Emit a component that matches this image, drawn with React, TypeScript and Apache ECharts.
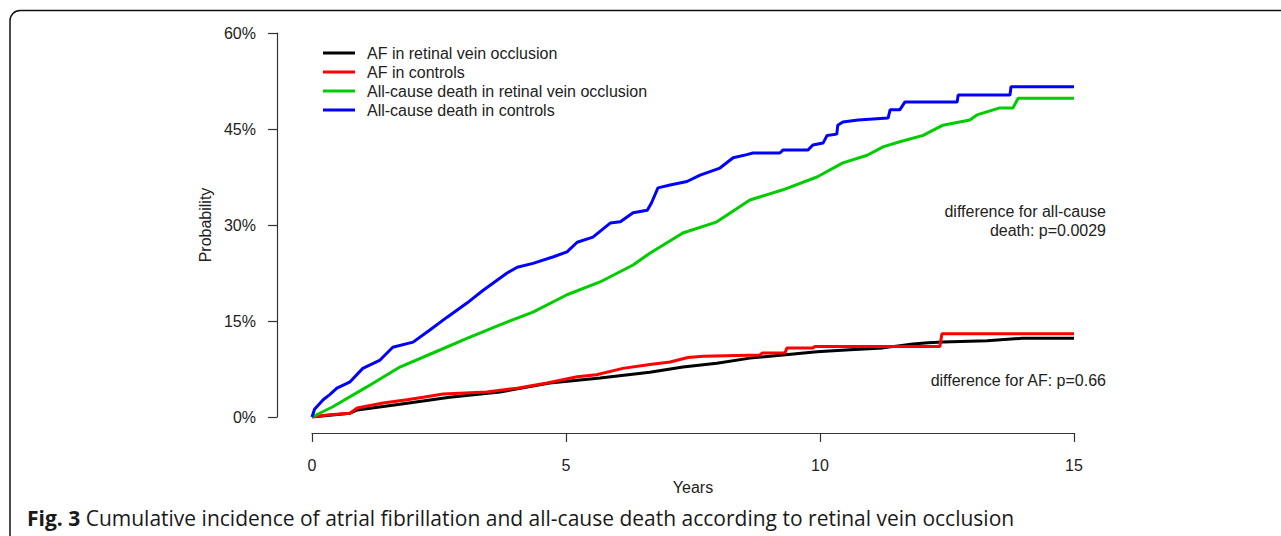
import React, { useEffect, useRef } from "react";
import * as echarts from "echarts";

const seriesNames = [
  "AF in retinal vein occlusion",
  "AF in controls",
  "All-cause death in retinal vein occlusion",
  "All-cause death in controls",
];
const seriesColors = ["#000000", "#FF0000", "#00CC00", "#0000FF"];

const xTicks = [0, 5, 10, 15];
const yTicks = [0, 15, 30, 45, 60];

// [years, cumulative probability %]
const afRvo: number[][] = [
  [0, 0], [0.75, 0.6], [0.89, 1.1], [1.73, 2], [2.71, 3.1], [3.7, 3.9], [4.68, 5.3],
  [5.67, 6.1], [6.65, 7], [7.3, 7.8], [7.97, 8.4], [8.62, 9.2], [9.27, 9.7], [9.94, 10.2],
  [10.59, 10.5], [11.24, 10.8], [11.83, 11.4], [12.13, 11.6], [12.42, 11.7], [13.29, 11.9],
  [13.98, 12.3], [15, 12.3],
];
const afCtrl: number[][] = [
  [0, 0], [0.3, 0.3], [0.75, 0.6], [0.89, 1.4], [1.4, 2.2], [1.87, 2.7], [2.19, 3.1],
  [2.58, 3.6], [3.44, 3.9], [4.04, 4.5], [4.63, 5.3], [5.22, 6.3], [5.6, 6.6], [6.12, 7.6],
  [6.65, 8.2], [7.05, 8.6], [7.4, 9.3], [7.7, 9.5], [8.82, 9.7], [8.86, 10], [9.31, 10],
  [9.35, 10.8], [9.86, 10.8], [9.9, 11], [12.36, 11], [12.4, 13], [15, 13],
];
const deathRvo: number[][] = [
  [0, 0], [0.41, 1.6], [1.08, 4.7], [1.73, 7.8], [2.38, 10], [3.05, 12.3], [3.7, 14.4],
  [4.35, 16.4], [5.02, 19.1], [5.67, 21.1], [6.32, 23.75], [6.65, 25.6], [7.3, 28.75],
  [7.97, 30.5], [8.62, 33.9], [9.27, 35.5], [9.94, 37.5], [10.45, 39.7], [10.93, 40.9],
  [11.24, 42.2], [11.57, 43], [12.03, 44], [12.42, 45.6], [12.95, 46.4], [13.09, 47.2],
  [13.54, 48.3], [13.8, 48.3], [13.9, 49.8], [15, 49.8],
];
const deathCtrl: number[][] = [
  [0, 0], [0.05, 1.2], [0.22, 2.7], [0.35, 3.5], [0.49, 4.5], [0.75, 5.5], [1.0, 7.6],
  [1.34, 8.9], [1.59, 10.9], [1.99, 11.7], [2.32, 13.6], [2.66, 15.6], [3.05, 17.8],
  [3.37, 19.8], [3.84, 22.5], [4.04, 23.4], [4.35, 24], [4.74, 25], [5.02, 25.8],
  [5.22, 27.3], [5.53, 28.1], [5.87, 30.3], [6.07, 30.5], [6.32, 31.9], [6.6, 32.3],
  [6.68, 33.4], [6.81, 35.8], [7.05, 36.25], [7.38, 36.8], [7.64, 37.8], [8.03, 38.9],
  [8.29, 40.5], [8.56, 41], [8.68, 41.25], [9.21, 41.25], [9.27, 41.7], [9.76, 41.7],
  [9.86, 42.5], [10.06, 42.8], [10.14, 44], [10.33, 44.2], [10.35, 45.6], [10.45, 46.1],
  [10.75, 46.4], [11.34, 46.7], [11.38, 48], [11.57, 48], [11.67, 49.2], [12.7, 49.2],
  [12.72, 50.3], [13.74, 50.3], [13.76, 51.6], [15, 51.6],
];
const seriesData = [afRvo, afCtrl, deathRvo, deathCtrl];

const annotationDeath = ["difference for all-cause", "death: p=0.0029"];
const annotationAF = "difference for AF: p=0.66";
const captionBold = "Fig. 3";
const captionText =
  " Cumulative incidence of atrial fibrillation and all-cause death according to retinal vein occlusion";

const FONT = "'Liberation Sans', Arial, Helvetica, sans-serif";
const CAPFONT = "'Open Sans', 'Noto Sans', sans-serif";
const TEXT = "#222222";
const AXIS = "#333333";

export default function App() {
  const ref = useRef<HTMLDivElement>(null);
  useEffect(() => {
    document.body.style.margin = "0";
    const chart = echarts.init(ref.current!, null, { renderer: "svg" });
    chart.setOption({
      animation: false,
      backgroundColor: "#ffffff",
      grid: { left: 312, right: 207, top: 33, bottom: 119, containLabel: false },
      xAxis: {
        type: "value",
        min: xTicks[0],
        max: xTicks[xTicks.length - 1],
        interval: 5,
        offset: 16,
        name: "Years",
        nameLocation: "middle",
        nameGap: 46,
        nameTextStyle: { fontFamily: FONT, fontSize: 16, color: TEXT },
        axisLine: { show: true, onZero: false, lineStyle: { color: AXIS, width: 1.2 } },
        axisTick: { show: true, length: 9, lineStyle: { color: AXIS, width: 1.2 } },
        axisLabel: { margin: 24, fontFamily: FONT, fontSize: 16, color: TEXT },
        splitLine: { show: false },
      },
      yAxis: {
        type: "value",
        min: yTicks[0],
        max: yTicks[yTicks.length - 1],
        interval: 15,
        offset: 35,
        name: "Probability",
        nameLocation: "middle",
        nameGap: 64,
        nameRotate: 90,
        nameTextStyle: { fontFamily: FONT, fontSize: 16, color: TEXT },
        axisLine: { show: true, onZero: false, lineStyle: { color: AXIS, width: 1.2 } },
        axisTick: { show: true, length: 9, lineStyle: { color: AXIS, width: 1.2 } },
        axisLabel: {
          margin: 21,
          fontFamily: FONT,
          fontSize: 16,
          color: TEXT,
          formatter: "{value}%",
        },
        splitLine: { show: false },
      },
      legend: {
        orient: "vertical",
        left: 323,
        top: 45,
        padding: 0,
        icon: "rect",
        itemWidth: 32,
        itemHeight: 3,
        itemGap: 3,
        data: seriesNames,
        textStyle: {
          fontFamily: FONT,
          fontSize: 16,
          lineHeight: 16,
          color: TEXT,
          padding: [0, 0, 0, 7],
        },
      },
      series: seriesNames.map((name, i) => ({
        name,
        type: "line",
        data: seriesData[i],
        showSymbol: false,
        symbol: "none",
        color: seriesColors[i],
        lineStyle: { color: seriesColors[i], width: 3 },
        z: 2 + i,
      })),
      graphic: [
        {
          type: "rect",
          shape: { x: 10, y: 10.5, width: 1400, height: 700, r: 10 },
          style: { fill: "none", stroke: "#111", lineWidth: 1.5 },
          silent: true,
        },
        {
          type: "text",
          x: 1106,
          y: 211,
          style: {
            text: annotationDeath[0],
            fontFamily: FONT,
            fontSize: 16,
            fill: TEXT,
            align: "right",
            verticalAlign: "middle",
          },
        },
        {
          type: "text",
          x: 1106,
          y: 230,
          style: {
            text: annotationDeath[1],
            fontFamily: FONT,
            fontSize: 16,
            fill: TEXT,
            align: "right",
            verticalAlign: "middle",
          },
        },
        {
          type: "text",
          x: 1106,
          y: 380,
          style: {
            text: annotationAF,
            fontFamily: FONT,
            fontSize: 16,
            fill: TEXT,
            align: "right",
            verticalAlign: "middle",
          },
        },
        {
          type: "text",
          x: 27,
          y: 518,
          style: {
            text: "{b|" + captionBold + "}{n|" + captionText + "}",
            verticalAlign: "middle",
            rich: {
              b: { fontFamily: CAPFONT, fontWeight: "bold", fontSize: 21, fill: "#1a1a1a" },
              n: { fontFamily: CAPFONT, fontSize: 21, fill: "#1a1a1a" },
            },
          },
        },
      ],
    });
    return () => chart.dispose();
  }, []);
  return <div ref={ref} style={{ width: 1281, height: 536 }} />;
}
